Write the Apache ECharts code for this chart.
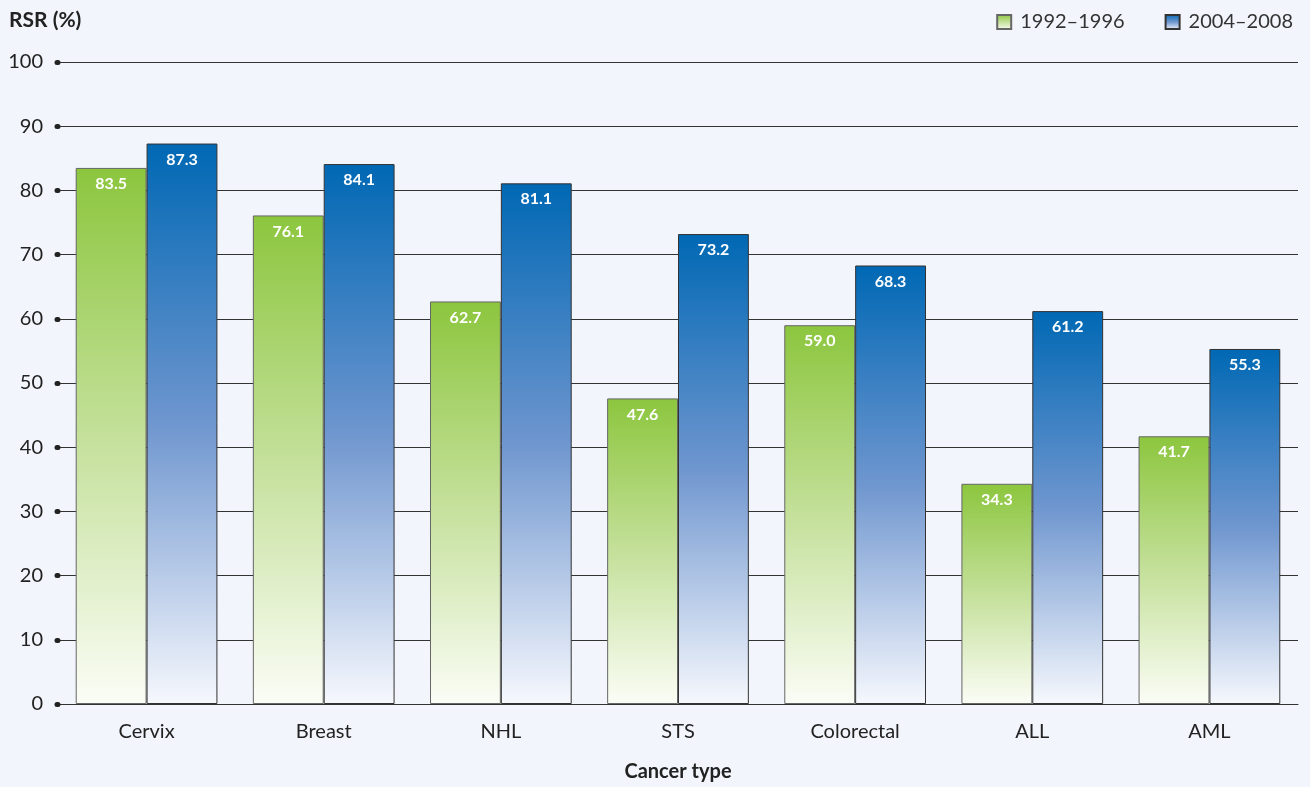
<!DOCTYPE html>
<html><head><meta charset="utf-8">
<script src="https://cdn.jsdelivr.net/npm/echarts@6/dist/echarts.min.js"></script>
<style>html,body{margin:0;padding:0;background:#f2f5fb;}#c{width:1310px;height:787px;}</style>
</head><body><div id="c"></div>
<script>
const categories = ['Cervix','Breast','NHL','STS','Colorectal','ALL','AML'];
const series1992 = [83.5,76.1,62.7,47.6,59.0,34.3,41.7];
const series2004 = [87.3,84.1,81.1,73.2,68.3,61.2,55.3];
const seriesNames = ['1992\u20131996','2004\u20132008'];

const FONT = 'Lato';
const greenGrad = new echarts.graphic.LinearGradient(0,0,0,1,[
  {offset:0,color:'#8cc63e'},{offset:0.5,color:'#c4e09a'},{offset:1,color:'#fbfdf6'}]);
const blueGrad = new echarts.graphic.LinearGradient(0,0,0,1,[
  {offset:0,color:'#0068b4'},{offset:0.5,color:'#6f96cf'},{offset:1,color:'#f6f8fd'}]);

const labelCfg = {show:true, position:'insideTop', distance:8, color:'#fff', fontWeight:'bold',
  fontSize:16, fontFamily:FONT, formatter:p=>p.value.toFixed(1)};

const chart = echarts.init(document.getElementById('c'), null, {renderer:'canvas'});
chart.setOption({
  backgroundColor:'#f2f5fb',
  animation:false,
  textStyle:{fontFamily:FONT},
  legend:{
    right:12, top:7, itemWidth:14, itemHeight:14, itemGap:40, icon:'rect',
    textStyle:{fontSize:20, color:'#333', fontFamily:FONT, padding:[0,0,0,4]},
    data:seriesNames
  },
  grid:{left:58, right:12, top:62, bottom:83, outerBoundsMode:'none', containLabel:false},
  xAxis:{
    type:'category', data:categories,
    name:'Cancer type', nameLocation:'middle', nameGap:58,
    nameTextStyle:{fontSize:20, fontWeight:'bold', color:'#222', fontFamily:FONT},
    axisLine:{lineStyle:{color:'#333', width:1}},
    axisTick:{show:false},
    axisLabel:{fontSize:20, color:'#222', margin:18, fontFamily:FONT}
  },
  yAxis:{
    type:'value', min:0, max:100, interval:10,
    name:'RSR (%)', nameLocation:'end', nameGap:0,
    nameTextStyle:{fontSize:21, fontWeight:'bold', color:'#222', fontFamily:FONT,
      align:'left', verticalAlign:'bottom', padding:[0,0,31,-49]},
    axisLine:{show:false},
    axisTick:{show:true, length:1, lineStyle:{color:'#222', width:5, cap:'round'}},
    axisLabel:{fontSize:20, color:'#222', margin:15, fontFamily:FONT},
    splitLine:{lineStyle:{color:'#333', width:1}}
  },
  series:[
    {name:seriesNames[0], type:'bar', data:series1992, barGap:'0%', barCategoryGap:'20%',
     itemStyle:{color:greenGrad, borderColor:'#666', borderWidth:1}, label:labelCfg},
    {name:seriesNames[1], type:'bar', data:series2004,
     itemStyle:{color:blueGrad, borderColor:'#333', borderWidth:1}, label:labelCfg}
  ]
});
</script></body></html>
